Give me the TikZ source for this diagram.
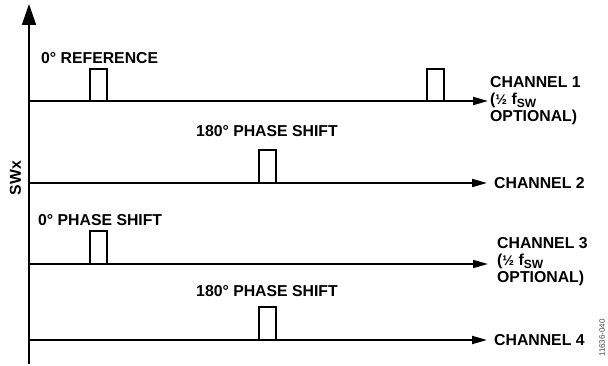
\documentclass[tikz,border=0pt]{standalone}
\usepackage{fontspec}
\setmainfont{Liberation Sans}
\usetikzlibrary{arrows.meta, positioning}

\begin{document}
\begin{tikzpicture}[
  x=1pt, y=-1pt,
  axis/.style={line width=1.9pt, -{Triangle[length=21pt, width=14pt]}},
  wave/.style={line width=1.9pt, -{Triangle[length=15pt, width=8pt]}},
  pulse/.style={line width=1.9pt, line join=miter},
  lbl/.style={font=\fontsize{15.8}{17}\selectfont\bfseries, inner sep=0pt},
  chan/.style={lbl, anchor=west, align=left},
]
  \useasboundingbox (0,0) rectangle (608,366);

  % axis
  \coordinate (origin) at (29,364);
  \coordinate (top)    at (29,4);
  \draw[axis] (origin) -- (top);
  \node[lbl, rotate=90] (swx) at (15.5,178) {SWx};

  % channel labels
  \node[chan] (ch1) at (490,101) {CHANNEL 1\\(\fontsize{14}{17}\selectfont ½\fontsize{15.8}{17}\selectfont{} f\raisebox{-3pt}{\fontsize{12}{12}\selectfont SW}\\OPTIONAL)};
  \node[chan] (ch2) at (494,183) {CHANNEL 2};
  \node[chan] (ch3) at (497,262) {CHANNEL 3\\(\fontsize{14}{17}\selectfont ½\fontsize{15.8}{17}\selectfont{} f\raisebox{-3pt}{\fontsize{12}{12}\selectfont SW}\\OPTIONAL)};
  \node[chan] (ch4) at (494,340) {CHANNEL 4};

  % time lines
  \coordinate (s1) at (29,101);
  \coordinate (s2) at (29,183);
  \coordinate (s3) at (29,264);
  \coordinate (s4) at (29,340);
  \coordinate (e1) at (488,101);
  \coordinate (e3) at (488,264);
  \draw[wave] (s1) -- (e1);
  \draw[wave] (s2) -- ([xshift=-7pt]ch2.west);
  \draw[wave] (s3) -- (e3);
  \draw[wave] (s4) -- ([xshift=-7pt]ch4.west);

  % pulses
  \draw[pulse] (90,101) |- (107,69) -- (107,101);
  \draw[pulse] (427,101) |- (444,69) -- (444,101);
  \draw[pulse] (259,183) |- (276,150) -- (276,183);
  \draw[pulse] (90,264) |- (107,231) -- (107,264);
  \draw[pulse] (259,340) |- (276,307) -- (276,340);

  % pulse labels
  \node[lbl, anchor=base west] (ref) at (41,64) {0° REFERENCE};
  \node[lbl, anchor=base] (ps2) at (267,137) {180° PHASE SHIFT};
  \node[lbl, anchor=base west] (ps3) at (38,226) {0° PHASE SHIFT};
  \node[lbl, anchor=base] (ps4) at (267,296) {180° PHASE SHIFT};

  \node[font=\fontsize{8}{8}\selectfont, text=black!70, rotate=90, inner sep=0pt]
    (code) at (602,338) {11636-040};
\end{tikzpicture}
\end{document}
